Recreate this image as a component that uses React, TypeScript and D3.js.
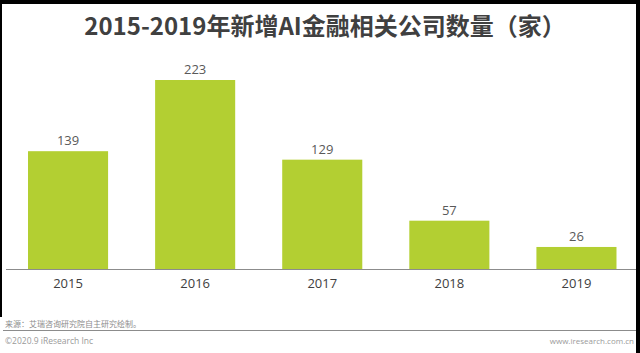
import React from 'react';
import * as d3 from 'd3';

const years = ['2015', '2016', '2017', '2018', '2019'];
const counts = [139, 223, 129, 57, 26];

const title = '2015-2019年新增AI金融相关公司数量（家）';
const sourceNote = '来源：艾瑞咨询研究院自主研究绘制。';
const copyright = '©2020.9 iResearch Inc';
const website = 'www.iresearch.com.cn';

const W = 640;
const H = 353;
const baseY = 269;

const App = () => {
    const x = d3
        .scaleBand()
        .domain(years)
        .range([4.5, 640])
        .paddingInner(0.37)
        .paddingOuter(0.185);

    const y = d3
        .scaleLinear()
        .domain([0, 223])
        .range([baseY, 80]);

    const font = '"Open Sans", "Noto Sans CJK SC", sans-serif';

    return (
        <div style={{ width: W, height: H }}>
            <style>{`body{margin:0}`}</style>
            <svg width={W} height={H} style={{ display: 'block', background: '#fff' }}>
                {/* frame */}
                <rect x={0} y={0} width={W} height={4} fill="#000" />
                <rect x={0} y={0} width={2} height={317} fill="#000" />
                <rect x={636} y={0} width={4} height={H} fill="#000" />

                <text
                    x={325}
                    y={35}
                    textAnchor="middle"
                    fontFamily='"Noto Sans CJK SC", sans-serif'
                    fontWeight="bold"
                    fontSize={24}
                    fill="#404040"
                >
                    {title}
                </text>

                {years.map((yr, i) => (
                    <g key={yr}>
                        <rect
                            x={x(yr)}
                            y={y(counts[i])}
                            width={x.bandwidth()}
                            height={baseY - y(counts[i])}
                            fill="#b3cf32"
                        />
                        <text
                            x={x(yr) + x.bandwidth() / 2}
                            y={y(counts[i]) - 6}
                            textAnchor="middle"
                            fontFamily={font}
                            fontSize={13}
                            fill="#595959"
                        >
                            {counts[i]}
                        </text>
                        <text
                            x={x(yr) + x.bandwidth() / 2}
                            y={288}
                            textAnchor="middle"
                            fontFamily={font}
                            fontSize={13}
                            fill="#404040"
                        >
                            {yr}
                        </text>
                    </g>
                ))}

                <line x1={6} x2={636} y1={baseY + 0.5} y2={baseY + 0.5} stroke="#8c8c8c" strokeWidth={1} />

                {/* footer */}
                <text x={5} y={327} fontFamily={font} fontSize={8} fill="#8c8c8c">
                    {sourceNote}
                </text>
                <line x1={3} x2={636} y1={330.5} y2={330.5} stroke="#8c8c8c" strokeWidth={1} />
                <text x={5} y={344} fontFamily={font} fontSize={8.5} fill="#9a9a9a">
                    {copyright}
                </text>
                <text x={634} y={344} textAnchor="end" fontFamily={font} fontSize={8} fill="#9a9a9a">
                    {website}
                </text>
            </svg>
        </div>
    );
};

export default App;
